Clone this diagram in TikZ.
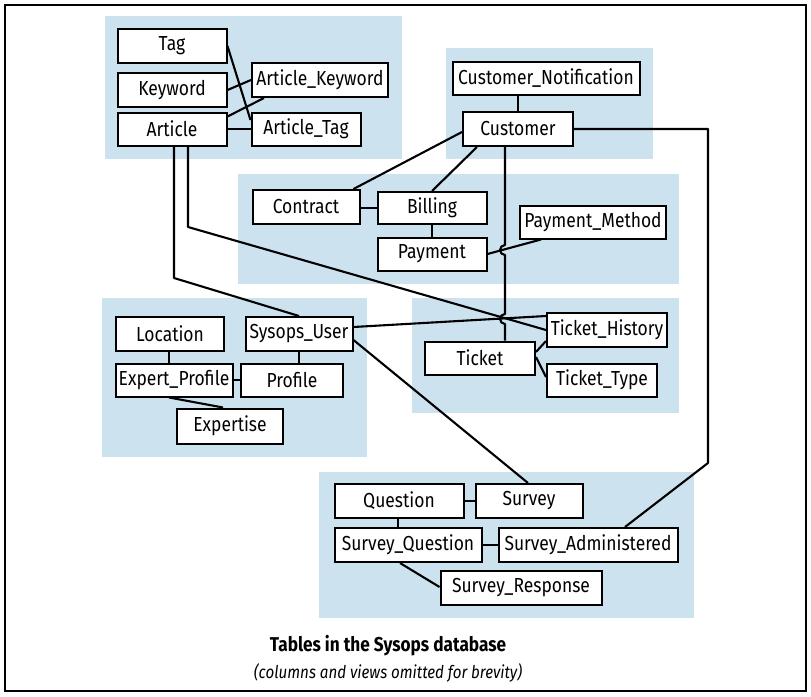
\documentclass[tikz,border=0pt]{standalone}
\usepackage{fontspec}
\setmainfont{Fira Sans}[FakeStretch=0.86]
\usepackage{tikz}
\usetikzlibrary{calc,positioning}
\definecolor{grpblue}{RGB}{204,226,239}

\begin{document}
\begin{tikzpicture}[
    x=1pt, y=-1pt,
    group/.style={fill=grpblue},
    tbl/.style={rectangle, draw=black, line width=2pt, fill=white, inner sep=0pt, minimum height=33pt, font=\fontsize{20.3}{22}\selectfont},
    link/.style={line width=2.1pt, line join=round}
]
\useasboundingbox (0,0) rectangle (811,696);
\draw[line width=1.4pt] (5,5) rectangle (806,691);

% Groups
\fill[group] (105,16) rectangle (402,159);
\fill[group] (446,48) rectangle (653,159);
\fill[group] (238,174) rectangle (679,284);
\fill[group] (102,298) rectangle (367,457);
\fill[group] (412,298) rectangle (679,413);
\fill[group] (319,472) rectangle (694,618);

% Articles
\node[tbl, minimum width=109pt, minimum height=34pt] (tag) at (172,46) {Tag};
\node[tbl, minimum width=109pt, minimum height=34pt] (keyword) at (172,90) {Keyword};
\node[tbl, minimum width=109pt] (article) at (172,129) {Article};
\node[tbl, minimum width=136pt, minimum height=34pt] (articlekw) at (320,80) {Article\_Keyword};
\node[tbl, minimum width=109pt] (articletag) at (306,129) {Article\_Tag};

% Customers
\node[tbl, minimum width=187pt] (custnotif) at (546,78) {Customer\_Notification};
\node[tbl, minimum width=110pt, minimum height=34pt] (customer) at (518,129) {Customer};

% Billing
\node[tbl, minimum width=107pt, minimum height=34pt] (contract) at (306,207) {Contract};
\node[tbl, minimum width=109pt, minimum height=32pt] (billing) at (432,208) {Billing};
\node[tbl, minimum width=109pt] (payment) at (432,254) {Payment};
\node[tbl, minimum width=146pt] (paymethod) at (593,222) {Payment\_Method};

% Users
\node[tbl, minimum width=108pt, minimum height=34pt] (location) at (170,334) {Location};
\node[tbl, minimum width=107pt, minimum height=34pt] (sysopsuser) at (299,334) {Sysops\_User};
\node[tbl, minimum width=117pt] (expertprofile) at (174,380) {Expert\_Profile};
\node[tbl, minimum width=102pt] (profile) at (292,380) {Profile};
\node[tbl, minimum width=106pt, minimum height=35pt] (expertise) at (230,426) {Expertise};

% Tickets
\node[tbl, minimum width=110pt] (ticket) at (480,358) {Ticket};
\node[tbl, minimum width=120pt, minimum height=34pt] (tickethistory) at (607,330) {Ticket\_History};
\node[tbl, minimum width=110pt] (tickettype) at (602,380) {Ticket\_Type};

% Surveys
\node[tbl, minimum width=129pt, minimum height=34pt] (question) at (399,501) {Question};
\node[tbl, minimum width=107pt, minimum height=34pt] (survey) at (529,501) {Survey};
\node[tbl, minimum width=147pt, minimum height=34pt] (surveyquestion) at (408,545) {Survey\_Question};
\node[tbl, minimum width=179pt, minimum height=34pt] (surveyadmin) at (588,545) {Survey\_Administered};
\node[tbl, minimum width=161pt, minimum height=34pt] (surveyresponse) at (521,588) {Survey\_Response};

% Caption
\node[font=\fontsize{20}{22}\selectfont\bfseries] (title) at (388,646) {Tables in the Sysops database};
\node[font=\fontsize{17.6}{20}\selectfont\itshape, below=0pt of title] (subtitle) {(columns and views omitted for brevity)};

% Links inside groups
\draw[link] (tag.east) -- ([yshift=9pt]articletag.west);
\draw[link] (keyword.east) -- (articlekw.west);
\draw[link] ([yshift=-5pt]article.north east) -- ([xshift=13pt]articlekw.south west);
\draw[link] (article.east) -- (articletag.west);
\draw[link] (customer.north) -- (customer.north |- custnotif.south);
\draw[link] ([yshift=-1pt]contract.east) -- ([yshift=-1pt]contract.east -| billing.west);
\draw[link] (billing.south) -- (payment.north);
\draw[link] ([xshift=-1pt]location.south) -- ([xshift=-1pt]location.south |- expertprofile.north);
\draw[link] (sysopsuser.south) -- (sysopsuser.south |- profile.north);
\draw[link] (expertprofile.east) -- (profile.west);
\draw[link] ([xshift=-5pt]expertprofile.south) -- ([xshift=-7pt]expertise.north);
\draw[link] ([yshift=6pt]ticket.east) -- ([yshift=7pt]tickethistory.south west);
\draw[link] ([yshift=1pt]ticket.east) -- ([yshift=3pt]tickettype.west);
\draw[link] (question.east) -- (survey.west);
\draw[link] ([xshift=-1pt]question.south) -- ([xshift=-1pt]question.south |- surveyquestion.north);
\draw[link] (surveyquestion.east) -- (surveyadmin.west);
\draw[link] ([xshift=-8pt]surveyquestion.south) -- ([yshift=1pt]surveyresponse.west);

% Links between groups
\coordinate (artbendA) at (174,278);
\coordinate (artbendB) at (188,227);
\coordinate (custturn) at (708,463);
\coordinate (hopA) at (505,250);
\coordinate (hopB) at (505,319);
\draw[link] ([xshift=2pt]article.south) -- (artbendA) -- (sysopsuser.north);
\draw[link] (article.south -| artbendB) -- (artbendB) -- (tickethistory.west);
\draw[link] ([yshift=-3pt]customer.west) -- ([xshift=-7pt]contract.north east);
\draw[link] ([xshift=15pt]customer.south west) -- (billing.north);
\draw[link] (payment.east) -- ([xshift=22pt]paymethod.south west);
\draw[link] (customer.east) -| (custturn) -- ([xshift=37pt]surveyadmin.north);
\draw[link] (customer.south -| hopA) -- ($(hopA)+(0,-5)$)
    arc[start angle=270, end angle=90, radius=5] -- ($(hopB)+(0,-5)$)
    arc[start angle=270, end angle=90, radius=5] -- (ticket.north -| hopA);
\draw[link] ([yshift=7pt]sysopsuser.east) -- ([yshift=14pt]tickethistory.west);
\draw[link] ([yshift=-6pt]sysopsuser.east) -- ([xshift=-1pt]survey.north);

\end{tikzpicture}
\end{document}
